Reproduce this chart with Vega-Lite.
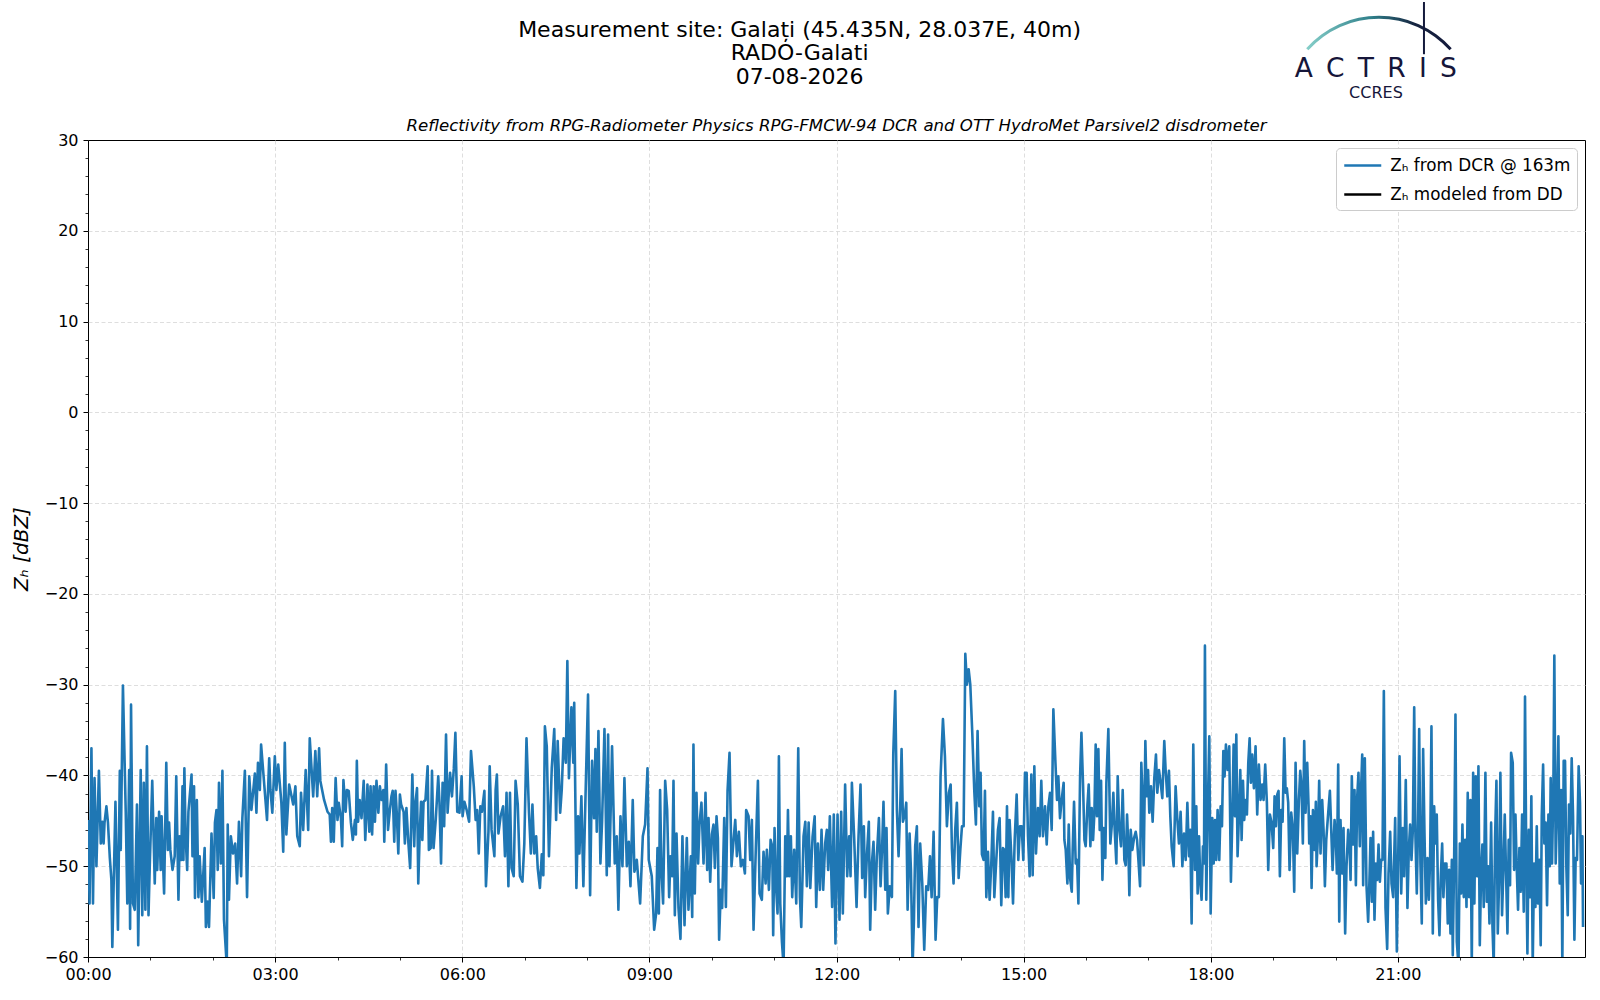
{
  "$schema": "https://vega.github.io/schema/vega-lite/v6.json",
  "width": 1497,
  "height": 817,
  "autosize": {"type": "none"},
  "padding": {"left": 88, "top": 140, "right": 15, "bottom": 43},
  "background": "white",
  "config": {
    "font": "DejaVu Sans",
    "view": {"stroke": "black", "strokeWidth": 1},
    "axis": {
      "domain": false,
      "labelFont": "DejaVu Sans",
      "labelFontSize": 16,
      "labelColor": "black",
      "tickColor": "black",
      "gridColor": "#d5d5d5",
      "gridDash": [4, 2.5],
      "gridWidth": 0.8,
      "labelOverlap": false,
      "labelBound": false,
      "labelFlush": false,
      "tickCount": 200
    }
  },
  "data": {
    "values": [
      {"m":0,"z":-44.9},{"m":1.5,"z":-54.1},{"m":3.3,"z":-37.0},{"m":4.8,"z":-54.1},{"m":6.3,"z":-40.3},{"m":8.1,"z":-50.0},{"m":10.5,"z":-39.5},{"m":12.3,"z":-47.5},{"m":13.8,"z":-45.1},{"m":15,"z":-47.5},
      {"m":15.9,"z":-45.2},{"m":17.7,"z":-43.4},{"m":19.2,"z":-45.2},{"m":21,"z":-49.1},{"m":22.5,"z":-51.5},{"m":23.4,"z":-58.9},{"m":26.4,"z":-42.9},{"m":28.8,"z":-57.0},{"m":30.6,"z":-39.5},{"m":31.5,"z":-48.2},
      {"m":33.6,"z":-30.1},{"m":36.3,"z":-44.0},{"m":37.8,"z":-54.1},{"m":39.6,"z":-39.4},{"m":40.5,"z":-56.9},{"m":41.4,"z":-32.2},{"m":43.2,"z":-54.1},{"m":45,"z":-54.8},{"m":47.1,"z":-43.2},{"m":48.3,"z":-58.7},
      {"m":50.7,"z":-39.4},{"m":52.2,"z":-55.4},{"m":53.7,"z":-40.8},{"m":55.2,"z":-54.8},{"m":56.7,"z":-36.8},{"m":58.2,"z":-55.4},{"m":59.4,"z":-50.0},{"m":61.8,"z":-40.6},{"m":64.2,"z":-51.9},{"m":65.7,"z":-44.7},
      {"m":66.6,"z":-50.4},{"m":68.4,"z":-44.0},{"m":69.9,"z":-50.4},{"m":70.8,"z":-44.5},{"m":73.2,"z":-53.0},{"m":75.3,"z":-38.6},{"m":76.8,"z":-48.2},{"m":78,"z":-45.2},{"m":79.2,"z":-48.2},{"m":81.3,"z":-50.4},
      {"m":83.4,"z":-48.9},{"m":84.9,"z":-40.1},{"m":87,"z":-53.7},{"m":88.2,"z":-46.7},{"m":89.7,"z":-49.3},{"m":90.9,"z":-41.2},{"m":91.8,"z":-49.3},{"m":92.7,"z":-39.2},{"m":93.9,"z":-46.7},{"m":95.4,"z":-50.4},
      {"m":96.6,"z":-44.0},{"m":99.6,"z":-39.9},{"m":100.5,"z":-48.9},{"m":102,"z":-41.2},{"m":102.9,"z":-53.5},{"m":104.7,"z":-42.7},{"m":106.2,"z":-53.4},{"m":107.4,"z":-48.9},{"m":109.5,"z":-53.9},{"m":112.2,"z":-48.0},
      {"m":113.4,"z":-56.7},{"m":114.9,"z":-53.9},{"m":116.4,"z":-56.7},{"m":118.8,"z":-46.4},{"m":120.9,"z":-53.5},{"m":122.1,"z":-45.2},{"m":123.6,"z":-43.8},{"m":124.8,"z":-50.4},{"m":126,"z":-40.8},{"m":127.8,"z":-49.7},
      {"m":129.3,"z":-39.5},{"m":130.8,"z":-55.9},{"m":133.5,"z":-61},{"m":134.4,"z":-45.4},{"m":135.6,"z":-53.7},{"m":137.4,"z":-46.7},{"m":139.5,"z":-48.6},{"m":141.6,"z":-47.5},{"m":143.4,"z":-51.9},{"m":145.2,"z":-45.1},
      {"m":147.3,"z":-51.1},{"m":148.5,"z":-44.7},{"m":150.9,"z":-39.5},{"m":153,"z":-53.4},{"m":155.1,"z":-40.1},{"m":157.2,"z":-43.8},{"m":160.5,"z":-39.8},{"m":162,"z":-44.1},{"m":163.5,"z":-38.6},{"m":165.3,"z":-41.6},
      {"m":166.5,"z":-36.6},{"m":172.2,"z":-44.9},{"m":174.3,"z":-38.1},{"m":175.5,"z":-41.6},{"m":177.3,"z":-44.1},{"m":179.7,"z":-37.9},{"m":181.2,"z":-41.6},{"m":183,"z":-38.8},{"m":186,"z":-43.0},{"m":187.8,"z":-48.4},
      {"m":189.3,"z":-36.4},{"m":190.8,"z":-46.5},{"m":193.5,"z":-41.0},{"m":197.4,"z":-43.2},{"m":199.5,"z":-41.2},{"m":201.3,"z":-46.7},{"m":203.7,"z":-47.8},{"m":204.9,"z":-41.9},{"m":207,"z":-46.0},{"m":209.4,"z":-39.4},
      {"m":211.8,"z":-46.0},{"m":213.3,"z":-35.9},{"m":216.6,"z":-42.3},{"m":218.7,"z":-37.3},{"m":220.5,"z":-42.3},{"m":222.3,"z":-37.0},{"m":223.5,"z":-40.6},{"m":227.1,"z":-42.7},
      {"m":230.4,"z":-44.0},{"m":232.5,"z":-44.3},{"m":233.7,"z":-47.3},{"m":234.9,"z":-43.6},{"m":236.4,"z":-47.3},{"m":238.2,"z":-40.3},{"m":240,"z":-44.9},{"m":241.2,"z":-43.0},{"m":243.3,"z":-44.7},{"m":244.5,"z":-47.8},
      {"m":245.7,"z":-40.5},{"m":247.8,"z":-44.0},{"m":249,"z":-41.6},{"m":250.8,"z":-41.7},{"m":252.9,"z":-45.2},{"m":254.7,"z":-47.1},{"m":256.8,"z":-44.9},{"m":257.7,"z":-46.5},{"m":258.6,"z":-38.4},{"m":259.8,"z":-45.1},
      {"m":261.3,"z":-42.7},{"m":263.1,"z":-44.7},{"m":265.2,"z":-40.6},{"m":266.7,"z":-47.1},{"m":267.9,"z":-44.0},{"m":268.8,"z":-41.0},{"m":270.6,"z":-46.2},{"m":271.8,"z":-41.2},{"m":273.3,"z":-46.5},{"m":274.8,"z":-41.2},
      {"m":276,"z":-45.1},{"m":277.5,"z":-40.6},{"m":279.3,"z":-44.1},{"m":280.8,"z":-41.2},{"m":282.3,"z":-42.7},{"m":284.1,"z":-41.6},{"m":285,"z":-47.3},{"m":286.8,"z":-38.8},{"m":288.6,"z":-46.0},{"m":290.4,"z":-43.8},
      {"m":291.9,"z":-42.3},{"m":293.1,"z":-41.7},{"m":294.6,"z":-47.3},{"m":295.8,"z":-41.7},{"m":297,"z":-44.1},{"m":298.5,"z":-48.6},{"m":300,"z":-42.1},{"m":301.2,"z":-43.2},{"m":303.6,"z":-44.0},{"m":304.8,"z":-47.5},
      {"m":306.3,"z":-43.6},{"m":308.1,"z":-47.3},{"m":309.9,"z":-50.2},{"m":312,"z":-39.9},{"m":313.8,"z":-47.8},{"m":315,"z":-43.0},{"m":316.5,"z":-41.4},{"m":317.7,"z":-51.9},{"m":319.2,"z":-46.0},{"m":320.4,"z":-42.9},
      {"m":321.6,"z":-47.1},{"m":322.8,"z":-42.9},{"m":324.6,"z":-42.7},{"m":326.7,"z":-39.0},{"m":327.9,"z":-48.2},{"m":329.7,"z":-48.0},{"m":330.9,"z":-39.5},{"m":332.4,"z":-48.0},{"m":334.5,"z":-44.9},{"m":336.9,"z":-40.1},
      {"m":338.1,"z":-43.0},{"m":339.6,"z":-49.7},{"m":341.1,"z":-40.8},{"m":342.6,"z":-45.6},{"m":344.4,"z":-35.5},{"m":345.9,"z":-44.1},{"m":348.3,"z":-39.7},{"m":350.1,"z":-42.3},{"m":351.9,"z":-39.2},{"m":353.4,"z":-35.3},
      {"m":355.2,"z":-44.0},{"m":357.3,"z":-44.1},{"m":359.4,"z":-40.1},{"m":360.3,"z":-44.5},{"m":362.1,"z":-42.9},{"m":364.2,"z":-43.8},{"m":366.6,"z":-45.1},{"m":368.4,"z":-37.3},{"m":371.1,"z":-41.2},{"m":372.9,"z":-44.9},
      {"m":374.4,"z":-43.8},{"m":375.9,"z":-48.6},{"m":377.4,"z":-43.4},{"m":378.9,"z":-44.0},{"m":381.3,"z":-41.7},{"m":382.8,"z":-52.2},{"m":385.2,"z":-46.2},{"m":386.4,"z":-39.0},{"m":388.2,"z":-46.0},{"m":390.9,"z":-48.9},
      {"m":392.1,"z":-41.6},{"m":393.3,"z":-39.9},{"m":394.8,"z":-46.4},{"m":396.9,"z":-44.5},{"m":399.3,"z":-43.4},{"m":401.1,"z":-48.9},{"m":402.6,"z":-41.9},{"m":404.4,"z":-52.2},{"m":405.9,"z":-41.9},{"m":407.4,"z":-50.2},
      {"m":409.5,"z":-51.1},{"m":411.3,"z":-40.6},{"m":413.4,"z":-43.2},{"m":415.5,"z":-51.1},{"m":417.9,"z":-51.7},{"m":419.7,"z":-47.5},{"m":421.8,"z":-35.9},{"m":424.2,"z":-44.1},{"m":426,"z":-48.6},{"m":427.5,"z":-43.2},
      {"m":429.3,"z":-48.6},{"m":431.1,"z":-46.7},{"m":432.6,"z":-50.2},{"m":434.7,"z":-52.4},{"m":436.5,"z":-48.7},{"m":438,"z":-51.0},{"m":439.5,"z":-34.6},{"m":441.3,"z":-36.8},{"m":443.4,"z":-48.9},{"m":446.1,"z":-39.2},
      {"m":448.5,"z":-34.9},{"m":450.3,"z":-44.9},{"m":451.8,"z":-36.2},{"m":454.2,"z":-44.1},{"m":455.7,"z":-41.6},{"m":457.5,"z":-35.9},{"m":459.6,"z":-38.6},{"m":461.1,"z":-27.4},{"m":462.6,"z":-40.3},{"m":465,"z":-32.5},
      {"m":466.8,"z":-38.6},{"m":467.7,"z":-32.0},
      {"m":469.8,"z":-52.4},{"m":471.4,"z":-44.5},{"m":472.7,"z":-48.6},{"m":474.6,"z":-42.3},{"m":476.5,"z":-52.2},{"m":478.8,"z":-41.2},{"m":481,"z":-31.1},{"m":483,"z":-53.2},{"m":484.9,"z":-38.4},{"m":486.8,"z":-44.7},
      {"m":488.1,"z":-37.1},{"m":489.4,"z":-46.2},{"m":491,"z":-35.1},{"m":492.9,"z":-49.7},{"m":494.5,"z":-45.1},{"m":496.8,"z":-34.9},{"m":499,"z":-51.0},{"m":500.3,"z":-35.5},{"m":501.6,"z":-50.0},{"m":504.1,"z":-36.8},
      {"m":506.7,"z":-49.7},{"m":508.6,"z":-46.7},{"m":510.2,"z":-54.8},{"m":512.2,"z":-44.5},{"m":514.1,"z":-50.0},{"m":516,"z":-40.3},{"m":518.3,"z":-50.0},{"m":520.2,"z":-47.3},{"m":521.8,"z":-52.2},{"m":524,"z":-42.7},
      {"m":525.6,"z":-50.6},{"m":527.9,"z":-49.3},{"m":531.1,"z":-54.1},{"m":533.7,"z":-46.7},{"m":535.9,"z":-45.4},{"m":538.2,"z":-39.2},{"m":539.4,"z":-49.3},{"m":542.3,"z":-51.1},{"m":544.6,"z":-57.0},{"m":546.5,"z":-55.2},
      {"m":547.8,"z":-48.0},{"m":549.1,"z":-55.2},{"m":550.3,"z":-41.6},{"m":551.6,"z":-50.4},{"m":553.2,"z":-54.1},{"m":555.2,"z":-40.6},{"m":557.1,"z":-43.8},{"m":559,"z":-53.4},{"m":560.3,"z":-48.9},{"m":561.9,"z":-51.1},
      {"m":563.2,"z":-40.6},{"m":564.5,"z":-55.4},{"m":566.1,"z":-46.4},{"m":568,"z":-54.6},{"m":569.9,"z":-58.0},{"m":571.8,"z":-46.7},{"m":573.8,"z":-56.5},{"m":576,"z":-46.9},{"m":577.6,"z":-54.8},{"m":579.9,"z":-48.9},
      {"m":581.2,"z":-55.6},{"m":582.4,"z":-36.6},{"m":583.7,"z":-53.0},{"m":585.3,"z":-41.9},{"m":586.9,"z":-49.7},{"m":588.2,"z":-45.4},{"m":590.1,"z":-43.0},{"m":592.1,"z":-49.7},{"m":594,"z":-41.9},{"m":595.6,"z":-50.4},
      {"m":596.9,"z":-44.7},{"m":598.5,"z":-51.7},{"m":600.1,"z":-46.5},{"m":601.7,"z":-45.4},{"m":603,"z":-50.2},{"m":604.6,"z":-44.5},{"m":605.9,"z":-46.9},{"m":607.1,"z":-58.1},{"m":608.7,"z":-52.6},{"m":610,"z":-54.6},
      {"m":612,"z":-44.7},{"m":613.6,"z":-54.5},{"m":615.2,"z":-41.7},{"m":617.1,"z":-37.5},{"m":619,"z":-50.0},{"m":621,"z":-47.1},{"m":622.6,"z":-44.9},{"m":624.2,"z":-48.9},{"m":626.1,"z":-46.2},{"m":628,"z":-50.0},
      {"m":630,"z":-49.3},{"m":631.9,"z":-50.8},{"m":633.1,"z":-43.8},{"m":635.4,"z":-44.5},{"m":637,"z":-49.3},{"m":638.6,"z":-44.9},{"m":640.2,"z":-57.0},{"m":642.4,"z":-48.0},{"m":644.4,"z":-40.6},{"m":646,"z":-53.0},
      {"m":648.2,"z":-53.7},{"m":649.8,"z":-48.4},{"m":651.8,"z":-51.9},{"m":653,"z":-48.2},{"m":655,"z":-52.6},{"m":656.6,"z":-47.1},{"m":658.2,"z":-47.8},{"m":659.1,"z":-57.6},{"m":660.4,"z":-45.8},{"m":662,"z":-52.6},
      {"m":663.3,"z":-55.2},{"m":664.6,"z":-37.9},{"m":665.9,"z":-54.1},{"m":667.5,"z":-58.3},{"m":669.1,"z":-61},{"m":670.7,"z":-46.7},{"m":672.3,"z":-51.1},{"m":673.3,"z":-43.8},{"m":674.5,"z":-51.1},{"m":676.1,"z":-46.7},
      {"m":677.4,"z":-53.4},{"m":679.3,"z":-48.2},{"m":681.3,"z":-54.1},{"m":683.2,"z":-37.0},{"m":684.8,"z":-53.4},{"m":686.1,"z":-56.7},{"m":688.3,"z":-46.7},{"m":690,"z":-45.1},{"m":691.5,"z":-52.2},{"m":693.2,"z":-45.2},
      {"m":694.8,"z":-52.4},{"m":697,"z":-46.7},{"m":699,"z":-44.5},{"m":700.5,"z":-54.5},{"m":702.1,"z":-47.5},
      {"m":704,"z":-52.6},{"m":705.6,"z":-46.0},{"m":707.2,"z":-52.6},{"m":709.1,"z":-47.5},{"m":710.7,"z":-46.0},{"m":712,"z":-50.4},{"m":713.6,"z":-44.5},{"m":715.8,"z":-54.5},{"m":717.4,"z":-44.3},{"m":719,"z":-58.5},
      {"m":721,"z":-44.3},{"m":722.9,"z":-55.9},{"m":724.5,"z":-44.0},{"m":726.1,"z":-55.2},{"m":728.3,"z":-41.0},{"m":730.3,"z":-51.1},{"m":732.2,"z":-46.7},{"m":733.5,"z":-51.1},{"m":734.8,"z":-40.8},{"m":737,"z":-46.9},
      {"m":739.3,"z":-54.5},{"m":741.2,"z":-46.7},{"m":743.1,"z":-41.0},{"m":744.7,"z":-51.3},{"m":746.3,"z":-45.6},{"m":747.6,"z":-53.4},{"m":749.2,"z":-48.9},{"m":751.1,"z":-45.1},{"m":752.4,"z":-57.0},{"m":754,"z":-49.7},
      {"m":755.6,"z":-47.3},{"m":757.2,"z":-54.8},{"m":758.8,"z":-48.9},{"m":760.8,"z":-44.7},{"m":762.4,"z":-52.2},{"m":764,"z":-47.5},{"m":765.2,"z":-42.9},{"m":766.9,"z":-52.6},{"m":768.1,"z":-45.8},{"m":769.4,"z":-55.2},
      {"m":771.3,"z":-52.2},{"m":773.3,"z":-53.4},{"m":774.6,"z":-37.7},{"m":776.5,"z":-30.7},{"m":778.1,"z":-43.8},{"m":779.7,"z":-48.9},{"m":781.3,"z":-43.4},{"m":782.6,"z":-37.1},{"m":783.9,"z":-45.1},{"m":785.8,"z":-44.3},
      {"m":787.1,"z":-43.0},{"m":788.4,"z":-54.8},{"m":790.3,"z":-46.4},{"m":791.6,"z":-50.4},{"m":793.2,"z":-61},{"m":794.5,"z":-55.9},{"m":795.7,"z":-47.8},{"m":797.3,"z":-45.6},{"m":798.9,"z":-56.7},{"m":800.5,"z":-47.5},
      {"m":802.5,"z":-51.9},{"m":804.4,"z":-59.2},{"m":806.3,"z":-52.2},{"m":808.2,"z":-52.6},{"m":809.9,"z":-48.9},{"m":811.5,"z":-53.4},{"m":813.4,"z":-46.2},{"m":815.3,"z":-58.1},{"m":816.9,"z":-53.4},{"m":818.5,"z":-53.4},
      {"m":820.1,"z":-40.1},{"m":822.4,"z":-33.8},{"m":824.3,"z":-37.9},{"m":826.2,"z":-45.6},{"m":828.1,"z":-41.9},{"m":829.8,"z":-41.0},{"m":831,"z":-48.0},{"m":832.6,"z":-51.9},{"m":834.2,"z":-46.0},{"m":835.8,"z":-43.0},
      {"m":837.5,"z":-51.3},{"m":839.1,"z":-48.2},{"m":840.7,"z":-45.6},{"m":842.3,"z":-45.6},{"m":843.9,"z":-26.6},{"m":845.5,"z":-30.0},{"m":847.1,"z":-28.3},{"m":848.7,"z":-30.0},{"m":850.6,"z":-35.3},{"m":852.5,"z":-41.6},
      {"m":854.1,"z":-45.4},{"m":855.7,"z":-35.1},{"m":857.3,"z":-43.4},{"m":858.6,"z":-39.7},{"m":859.9,"z":-48.7},{"m":861.5,"z":-49.3},{"m":862.8,"z":-41.7},{"m":864.1,"z":-53.4},{"m":865.7,"z":-48.4},{"m":867.3,"z":-53.7},
      {"m":868.9,"z":-49.7},{"m":870.5,"z":-44.0},{"m":871.8,"z":-53.4},{"m":873.7,"z":-49.3},{"m":875.3,"z":-46.0},{"m":876.9,"z":-44.7},{"m":878.5,"z":-54.3},{"m":880.1,"z":-48.0},{"m":881.4,"z":-48.2},{"m":882.7,"z":-53.4},
      {"m":884,"z":-43.4},{"m":885.3,"z":-53.4},{"m":886.5,"z":-44.9},{"m":888.2,"z":-48.9},{"m":889.8,"z":-54.1},{"m":891.4,"z":-47.1},{"m":893.3,"z":-42.1},{"m":894.9,"z":-49.3},{"m":896.5,"z":-45.6},{"m":898.1,"z":-45.6},
      {"m":899.7,"z":-49.3},{"m":901.3,"z":-39.7},{"m":902.9,"z":-39.7},{"m":904.2,"z":-46.7},{"m":905.8,"z":-51.1},{"m":907.4,"z":-39.9},{"m":908.7,"z":-51.0},{"m":910.3,"z":-39.0},{"m":911.9,"z":-48.6},{"m":913.8,"z":-43.6},
      {"m":915.4,"z":-46.7},{"m":917,"z":-40.6},{"m":918.6,"z":-46.7},{"m":920.6,"z":-43.4},{"m":922.2,"z":-47.6},{"m":923.8,"z":-43.4},{"m":925.4,"z":-41.9},{"m":927,"z":-46.0},{"m":928.6,"z":-32.7},{"m":930.5,"z":-38.3},
      {"m":932.1,"z":-42.7},{"m":933.4,"z":-40.1},{"m":935,"z":-44.7},{"m":936.6,"z":-42.7},{"m":938.5,"z":-40.8},
      {"m":939.2,"z":-47.1},{"m":940.5,"z":-48.2},{"m":942.1,"z":-51.9},{"m":943.4,"z":-45.4},{"m":944.7,"z":-51.3},{"m":946.3,"z":-52.8},{"m":947.2,"z":-48.2},{"m":948.5,"z":-42.9},{"m":950.1,"z":-49.7},{"m":951.4,"z":-49.3},
      {"m":952.7,"z":-54.1},{"m":954.3,"z":-40.1},{"m":955.6,"z":-35.3},{"m":957.2,"z":-41.2},{"m":958.5,"z":-47.1},{"m":959.7,"z":-47.8},{"m":961.3,"z":-43.4},{"m":962.6,"z":-41.0},{"m":964.2,"z":-47.8},{"m":965.5,"z":-43.6},
      {"m":966.8,"z":-47.1},{"m":968.1,"z":-44.1},{"m":969.3,"z":-36.6},{"m":970.6,"z":-44.5},{"m":971.9,"z":-37.1},{"m":973.2,"z":-46.0},{"m":974.5,"z":-40.6},{"m":975.8,"z":-51.5},{"m":977,"z":-45.8},{"m":978.6,"z":-49.1},
      {"m":979.6,"z":-40.8},{"m":981.5,"z":-34.9},{"m":983.4,"z":-47.5},{"m":985,"z":-45.2},{"m":986.3,"z":-41.9},{"m":987.6,"z":-46.0},{"m":989.2,"z":-49.7},{"m":990.5,"z":-40.1},{"m":992.1,"z":-46.0},{"m":993.7,"z":-47.8},
      {"m":995.3,"z":-41.6},{"m":996.9,"z":-49.3},{"m":998.2,"z":-49.9},{"m":999.5,"z":-44.3},{"m":1000.7,"z":-47.8},{"m":1001.7,"z":-53.2},{"m":1003,"z":-46.0},{"m":1004.6,"z":-48.2},{"m":1006.2,"z":-46.9},{"m":1007.8,"z":-46.2},
      {"m":1009.1,"z":-47.1},{"m":1010.4,"z":-49.3},{"m":1012,"z":-52.2},{"m":1013.2,"z":-38.6},{"m":1014.2,"z":-41.7},{"m":1015.5,"z":-49.9},{"m":1017.1,"z":-36.2},{"m":1018.4,"z":-42.3},{"m":1019.7,"z":-39.4},{"m":1020.9,"z":-44.1},
      {"m":1022.5,"z":-41.2},{"m":1024.1,"z":-45.1},{"m":1025.7,"z":-40.3},{"m":1027.3,"z":-37.7},{"m":1028.6,"z":-41.9},{"m":1030.2,"z":-39.4},{"m":1031.8,"z":-40.8},{"m":1033.4,"z":-42.5},{"m":1035.3,"z":-36.2},{"m":1036.6,"z":-39.4},
      {"m":1038.2,"z":-42.3},{"m":1039.8,"z":-39.5},{"m":1041.1,"z":-44.5},{"m":1042.4,"z":-47.8},{"m":1044.3,"z":-50.0},{"m":1046.2,"z":-41.2},{"m":1047.8,"z":-44.7},{"m":1049.4,"z":-47.5},{"m":1051,"z":-44.0},{"m":1052.7,"z":-50.0},
      {"m":1054.3,"z":-46.4},{"m":1055.9,"z":-49.3},{"m":1057.5,"z":-43.0},{"m":1059.1,"z":-48.9},{"m":1060.3,"z":-46.0},{"m":1061.6,"z":-56.3},{"m":1063.2,"z":-36.6},{"m":1064.8,"z":-50.4},{"m":1066.1,"z":-43.4},{"m":1067.4,"z":-53.0},
      {"m":1068.7,"z":-46.7},{"m":1070,"z":-51.9},{"m":1071.2,"z":-53.7},{"m":1072.5,"z":-47.8},{"m":1073.5,"z":-49.7},{"m":1074.4,"z":-25.7},{"m":1075.7,"z":-53.7},{"m":1077,"z":-44.5},{"m":1078.6,"z":-35.7},{"m":1079.9,"z":-55.2},
      {"m":1081.5,"z":-44.7},{"m":1082.8,"z":-49.7},{"m":1084.1,"z":-44.9},{"m":1085.3,"z":-49.3},{"m":1086.6,"z":-43.8},{"m":1088.2,"z":-49.3},{"m":1089.5,"z":-43.4},{"m":1090.8,"z":-45.6},{"m":1092.1,"z":-37.3},{"m":1093.3,"z":-40.1},
      {"m":1094.6,"z":-36.6},{"m":1096.2,"z":-39.4},{"m":1097.8,"z":-36.8},{"m":1099.4,"z":-51.7},{"m":1100.7,"z":-44.9},{"m":1102,"z":-36.6},{"m":1103.3,"z":-44.5},{"m":1104.6,"z":-35.5},{"m":1105.8,"z":-48.9},{"m":1107.1,"z":-44.5},
      {"m":1108.4,"z":-39.4},{"m":1109.7,"z":-47.1},{"m":1111,"z":-40.6},{"m":1112.2,"z":-44.9},{"m":1113.5,"z":-42.7},{"m":1114.8,"z":-44.3},{"m":1116.1,"z":-38.6},{"m":1117.4,"z":-35.9},{"m":1118.6,"z":-40.8},{"m":1119.9,"z":-37.7},
      {"m":1121.5,"z":-41.4},{"m":1123.1,"z":-36.8},{"m":1124.7,"z":-44.3},{"m":1126.3,"z":-38.8},{"m":1127.9,"z":-42.7},{"m":1129.5,"z":-41.0},{"m":1130.8,"z":-42.7},{"m":1132.4,"z":-38.8},{"m":1134,"z":-43.0},{"m":1135.3,"z":-50.4},
      {"m":1136.9,"z":-44.3},{"m":1138.5,"z":-45.2},{"m":1140.1,"z":-48.0},{"m":1141.4,"z":-42.3},{"m":1142.7,"z":-45.6},{"m":1144,"z":-42.1},{"m":1145.2,"z":-41.7},{"m":1146.5,"z":-51.1},{"m":1147.8,"z":-43.8},{"m":1149.1,"z":-45.1},
      {"m":1150.7,"z":-35.9},{"m":1152,"z":-41.9},{"m":1153.2,"z":-41.4},{"m":1154.5,"z":-43.0},{"m":1155.8,"z":-50.4},{"m":1157.4,"z":-44.1},{"m":1159,"z":-46.0},{"m":1160.3,"z":-52.8},{"m":1161.6,"z":-38.6},{"m":1163.2,"z":-48.6},
      {"m":1164.8,"z":-42.7},{"m":1166.1,"z":-39.5},{"m":1167.3,"z":-41.2},{"m":1168.6,"z":-47.5},{"m":1169.9,"z":-36.2},{"m":1171.2,"z":-44.1},{"m":1172.8,"z":-38.6},{"m":1174.1,"z":-43.4},
      {"m":1174.7,"z":-47.5},{"m":1176,"z":-44.5},{"m":1177,"z":-52.4},{"m":1178.3,"z":-43.8},{"m":1179.9,"z":-48.2},{"m":1181.1,"z":-42.9},{"m":1181.8,"z":-50.0},{"m":1183.1,"z":-46.7},{"m":1184.3,"z":-40.6},{"m":1185.6,"z":-48.6},
      {"m":1187.2,"z":-42.7},{"m":1188.5,"z":-46.0},{"m":1189.8,"z":-52.2},{"m":1191.1,"z":-47.1},{"m":1192.3,"z":-45.2},{"m":1194.6,"z":-41.7},{"m":1195.9,"z":-46.0},{"m":1197.2,"z":-50.4},{"m":1199.1,"z":-44.9},{"m":1200.4,"z":-47.1},
      {"m":1201.3,"z":-50.8},{"m":1202.6,"z":-38.8},{"m":1203.6,"z":-56.1},{"m":1204.8,"z":-44.9},{"m":1206.4,"z":-50.8},{"m":1207.7,"z":-45.8},{"m":1209.3,"z":-57.4},{"m":1210.6,"z":-50.0},{"m":1212.2,"z":-46.0},{"m":1213.5,"z":-47.8},
      {"m":1214.5,"z":-51.5},{"m":1215.7,"z":-40.1},{"m":1217,"z":-47.6},{"m":1218.3,"z":-41.6},{"m":1219.6,"z":-52.1},{"m":1220.9,"z":-42.3},{"m":1222.1,"z":-39.7},{"m":1223.4,"z":-47.8},{"m":1224.7,"z":-41.2},{"m":1225.7,"z":-37.7},
      {"m":1226.6,"z":-52.1},{"m":1228.2,"z":-38.1},{"m":1229.8,"z":-52.1},{"m":1231.4,"z":-56.1},{"m":1232.4,"z":-52.6},{"m":1233.7,"z":-46.9},{"m":1235,"z":-53.9},{"m":1236.2,"z":-46.2},{"m":1237.5,"z":-55.9},{"m":1238.8,"z":-49.7},
      {"m":1240.1,"z":-51.5},{"m":1241.4,"z":-47.6},{"m":1242.7,"z":-51.7},{"m":1243.9,"z":-49.3},{"m":1245.2,"z":-49.3},{"m":1246.5,"z":-30.7},{"m":1248.1,"z":-54.6},{"m":1249.7,"z":-59.1},{"m":1251,"z":-50.8},{"m":1252.6,"z":-46.2},
      {"m":1253.9,"z":-51.9},{"m":1255.5,"z":-53.4},{"m":1257.4,"z":-44.7},{"m":1259,"z":-59.4},{"m":1260.3,"z":-49.3},{"m":1261.6,"z":-37.9},{"m":1263.2,"z":-53.0},{"m":1264.8,"z":-45.8},{"m":1266,"z":-51.1},{"m":1267.6,"z":-40.5},
      {"m":1269.2,"z":-54.6},{"m":1270.5,"z":-48.2},{"m":1271.8,"z":-45.4},{"m":1273.1,"z":-49.3},{"m":1274.4,"z":-46.0},{"m":1275.7,"z":-32.5},{"m":1276.9,"z":-46.7},{"m":1278.2,"z":-53.0},{"m":1279.5,"z":-44.9},{"m":1280.5,"z":-34.9},
      {"m":1281.7,"z":-49.7},{"m":1283,"z":-56.3},{"m":1284.3,"z":-37.1},{"m":1285.6,"z":-46.4},{"m":1286.9,"z":-54.1},{"m":1288.5,"z":-49.1},{"m":1289.8,"z":-53.7},{"m":1291,"z":-49.3},{"m":1292.3,"z":-34.6},{"m":1293.6,"z":-57.4},
      {"m":1294.9,"z":-43.4},{"m":1296.2,"z":-47.5},{"m":1297.4,"z":-44.3},{"m":1298.7,"z":-53.7},{"m":1300,"z":-57.6},{"m":1301.3,"z":-51.1},{"m":1302.6,"z":-47.5},{"m":1303.8,"z":-53.4},{"m":1305.1,"z":-49.7},{"m":1306.7,"z":-49.7},
      {"m":1308,"z":-56.3},{"m":1309.3,"z":-50.4},{"m":1310.6,"z":-57.4},{"m":1311.9,"z":-49.3},{"m":1312.8,"z":-59.8},{"m":1314.1,"z":-49.7},{"m":1315.4,"z":-33.3},{"m":1316.7,"z":-58.3},{"m":1318.3,"z":-61},{"m":1319.6,"z":-47.5},
      {"m":1320.8,"z":-53.0},{"m":1322.1,"z":-45.4},{"m":1323.4,"z":-53.4},{"m":1324.7,"z":-47.1},{"m":1326,"z":-54.5},{"m":1327.2,"z":-41.9},{"m":1328.5,"z":-53.4},{"m":1329.8,"z":-42.7},{"m":1331.1,"z":-61},{"m":1332.4,"z":-39.7},
      {"m":1333.6,"z":-54.1},{"m":1334.9,"z":-40.1},{"m":1336.2,"z":-51.1},{"m":1337.5,"z":-39.0},{"m":1338.8,"z":-58.7},{"m":1340.1,"z":-50.4},{"m":1341.3,"z":-47.6},{"m":1342.6,"z":-54.5},{"m":1344.2,"z":-39.7},{"m":1345.5,"z":-53.9},
      {"m":1346.8,"z":-50.0},{"m":1348.1,"z":-56.3},{"m":1349.7,"z":-45.2},{"m":1351,"z":-56.7},{"m":1352.2,"z":-61},{"m":1353.5,"z":-46.9},{"m":1354.8,"z":-40.6},{"m":1356.1,"z":-57.4},{"m":1357.4,"z":-51.5},{"m":1358.6,"z":-39.7},
      {"m":1360.2,"z":-55.4},{"m":1361.5,"z":-50.4},{"m":1362.8,"z":-44.3},{"m":1364.1,"z":-51.0},{"m":1365.4,"z":-57.4},{"m":1366.6,"z":-47.1},{"m":1367.9,"z":-52.1},{"m":1368.9,"z":-37.5},{"m":1370.5,"z":-38.6},{"m":1371.8,"z":-50.4},
      {"m":1373.1,"z":-44.3},{"m":1374.3,"z":-50.0},{"m":1375.6,"z":-54.8},{"m":1376.9,"z":-48.0},{"m":1378.2,"z":-52.8},{"m":1379.5,"z":-44.3},{"m":1381.1,"z":-55.0},{"m":1382.3,"z":-31.3},{"m":1383.6,"z":-50.6},{"m":1384.6,"z":-59.6},
      {"m":1385.9,"z":-46.0},{"m":1387.2,"z":-53.4},{"m":1388.4,"z":-42.3},{"m":1389.7,"z":-61},{"m":1391,"z":-49.7},{"m":1392.3,"z":-54.5},{"m":1393.6,"z":-45.6},{"m":1394.8,"z":-54.1},{"m":1396.1,"z":-49.3},{"m":1397.4,"z":-58.7},
      {"m":1398.4,"z":-44.5},{"m":1399.7,"z":-38.8},{"m":1400.9,"z":-47.5},{"m":1402.2,"z":-45.2},{"m":1403.5,"z":-54.3},{"m":1404.8,"z":-44.3},{"m":1406.1,"z":-50.0},{"m":1407,"z":-40.3},{"m":1408.3,"z":-49.7},{"m":1409.6,"z":-41.2},
      {"m":1410.5,"z":-26.8},{"m":1411.8,"z":-49.7},{"m":1413.1,"z":-44.0},{"m":1414.4,"z":-35.7},{"m":1415.7,"z":-51.9},{"m":1417,"z":-41.6},{"m":1418.2,"z":-61},{"m":1419.5,"z":-38.4},{"m":1420.8,"z":-38.4},{"m":1422.1,"z":-50.2},
      {"m":1423.4,"z":-55.4},{"m":1424.6,"z":-43.2},{"m":1425.9,"z":-46.4},{"m":1427.2,"z":-38.1},{"m":1428.5,"z":-44.5},{"m":1429.8,"z":-58.1},{"m":1431,"z":-49.1},{"m":1432.3,"z":-49.3},{"m":1433.9,"z":-39.0},{"m":1435.2,"z":-43.0},
      {"m":1436.2,"z":-51.9},{"m":1437.5,"z":-46.7},{"m":1438.1,"z":-56.7}
    ]
  },
  "layer": [
    {
      "mark": {"type": "line", "clip": true, "strokeWidth": 2.6, "strokeJoin": "round"},
      "encoding": {
        "x": {
          "field": "m",
          "type": "quantitative",
          "scale": {"domain": [0, 1440], "nice": false, "zero": false},
          "axis": {
            "title": null,
            "tickCount": 200,
            "values": [0, 60, 120, 180, 240, 300, 360, 420, 480, 540, 600, 660, 720, 780, 840, 900, 960, 1020, 1080, 1140, 1200, 1260, 1320, 1380],
            "labelExpr": "datum.value % 180 === 0 ? (datum.value < 600 ? '0' : '') + (datum.value / 60) + ':00' : ''",
            "tickSize": {"condition": {"test": "datum.value % 180 === 0", "value": 5}, "value": 3},
            "tickWidth": {"condition": {"test": "datum.value % 180 === 0", "value": 1}, "value": 0.8},
            "gridOpacity": {"condition": {"test": "datum.value % 180 === 0 && datum.value > 0", "value": 1}, "value": 0},
            "labelPadding": 4
          }
        },
        "y": {
          "field": "z",
          "type": "quantitative",
          "scale": {"domain": [-60, 30], "nice": false, "zero": false},
          "axis": {
            "title": "Zₕ [dBZ]",
            "titleFont": "DejaVu Sans",
            "titleFontStyle": "italic",
            "titleFontWeight": "normal",
            "titleFontSize": 20,
            "titleColor": "black",
            "titlePadding": 13,
            "tickCount": 200,
            "format": "d",
            "values": [-60, -58, -56, -54, -52, -50, -48, -46, -44, -42, -40, -38, -36, -34, -32, -30, -28, -26, -24, -22, -20, -18, -16, -14, -12, -10, -8, -6, -4, -2, 0, 2, 4, 6, 8, 10, 12, 14, 16, 18, 20, 22, 24, 26, 28, 30],
            "labelExpr": "datum.value % 10 === 0 ? datum.label : ''",
            "tickSize": {"condition": {"test": "datum.value % 10 === 0", "value": 5}, "value": 3},
            "tickWidth": {"condition": {"test": "datum.value % 10 === 0", "value": 1}, "value": 0.8},
            "gridOpacity": {"condition": {"test": "datum.value % 10 === 0 && datum.value > -60 && datum.value < 30", "value": 1}, "value": 0},
            "labelPadding": 5
          }
        },
        "color": {
          "datum": "Zₕ from DCR @ 163m",
          "type": "nominal",
          "scale": {"domain": ["Zₕ from DCR @ 163m", "Zₕ modeled from DD"], "range": ["#1f77b4", "#000000"]},
          "legend": {
            "title": null,
            "orient": "top-right",
            "offset": 8,
            "symbolType": "M-2,0H2",
            "symbolStrokeWidth": 2.6,
            "symbolSize": 342.25,
            "symbolOffset": 9.25,
            "symbolFillColor": "transparent",
            "labelFont": "DejaVu Sans",
            "labelFontSize": 16.8,
            "labelColor": "black",
            "labelOffset": 16.5,
            "labelLimit": 400,
            "fillColor": "white",
            "strokeColor": "#cccccc",
            "cornerRadius": 4,
            "padding": 6.5,
            "rowPadding": 9
          }
        }
      }
    },
    {
      "data": {"values": [{}]},
      "mark": {"type": "text", "text": "Measurement site: Galați (45.435N, 28.037E, 40m)", "font": "DejaVu Sans", "fontSize": 22, "align": "center", "baseline": "alphabetic", "color": "black"},
      "encoding": {"x": {"datum": 684.5, "type": "quantitative"}, "y": {"datum": 41.39, "type": "quantitative"}}
    },
    {
      "data": {"values": [{}]},
      "mark": {"type": "text", "text": "RADO-Galati", "font": "DejaVu Sans", "fontSize": 22, "align": "center", "baseline": "alphabetic", "color": "black"},
      "encoding": {"x": {"datum": 684.5, "type": "quantitative"}, "y": {"datum": 38.81, "type": "quantitative"}}
    },
    {
      "data": {"values": [{}]},
      "mark": {"type": "text", "text": "07-08-2026", "font": "DejaVu Sans", "fontSize": 22, "align": "center", "baseline": "alphabetic", "color": "black"},
      "encoding": {"x": {"datum": 684.5, "type": "quantitative"}, "y": {"datum": 36.22, "type": "quantitative"}}
    },
    {
      "data": {"values": [{}]},
      "mark": {"type": "text", "text": "Reflectivity from RPG-Radiometer Physics RPG-FMCW-94 DCR and OTT HydroMet Parsivel2 disdrometer", "font": "DejaVu Sans", "fontSize": 16.6, "fontStyle": "italic", "align": "center", "baseline": "alphabetic", "color": "black"},
      "encoding": {"x": {"datum": 720, "type": "quantitative"}, "y": {"datum": 30.94, "type": "quantitative"}}
    },
    {
      "data": {"values": [{}]},
      "mark": {
        "type": "arc",
        "outerRadius": 97.5,
        "innerRadius": 94.5,
        "theta": -0.843,
        "theta2": 0.843,
        "color": {
          "gradient": "linear",
          "x1": 0, "y1": 0, "x2": 1, "y2": 0,
          "stops": [
            {"offset": 0, "color": "#86cfc9"},
            {"offset": 0.45, "color": "#2f7f8a"},
            {"offset": 0.75, "color": "#16233f"},
            {"offset": 1, "color": "#141a3c"}
          ]
        }
      },
      "encoding": {"x": {"datum": 1241.8, "type": "quantitative"}, "y": {"datum": 32.96, "type": "quantitative"}}
    },
    {
      "data": {"values": [{}]},
      "mark": {"type": "rule", "color": "#141a3c", "strokeWidth": 2},
      "encoding": {
        "x": {"datum": 1285.1, "type": "quantitative"},
        "y": {"datum": 45.2, "type": "quantitative"},
        "y2": {"datum": 39.45}
      }
    },
    {
      "data": {"values": [{}]},
      "mark": {"type": "text", "text": "A\u2002C\u2002T\u2002R\u2002I\u2002S", "font": "DejaVu Sans", "fontSize": 26.5, "align": "center", "baseline": "alphabetic", "color": "#16163a"},
      "encoding": {"x": {"datum": 1238.7, "type": "quantitative"}, "y": {"datum": 36.91, "type": "quantitative"}}
    },
    {
      "data": {"values": [{}]},
      "mark": {"type": "text", "text": "CCRES", "font": "DejaVu Sans", "fontSize": 16, "align": "center", "baseline": "alphabetic", "color": "#16163a"},
      "encoding": {"x": {"datum": 1238.9, "type": "quantitative"}, "y": {"datum": 34.66, "type": "quantitative"}}
    }
  ]
}
